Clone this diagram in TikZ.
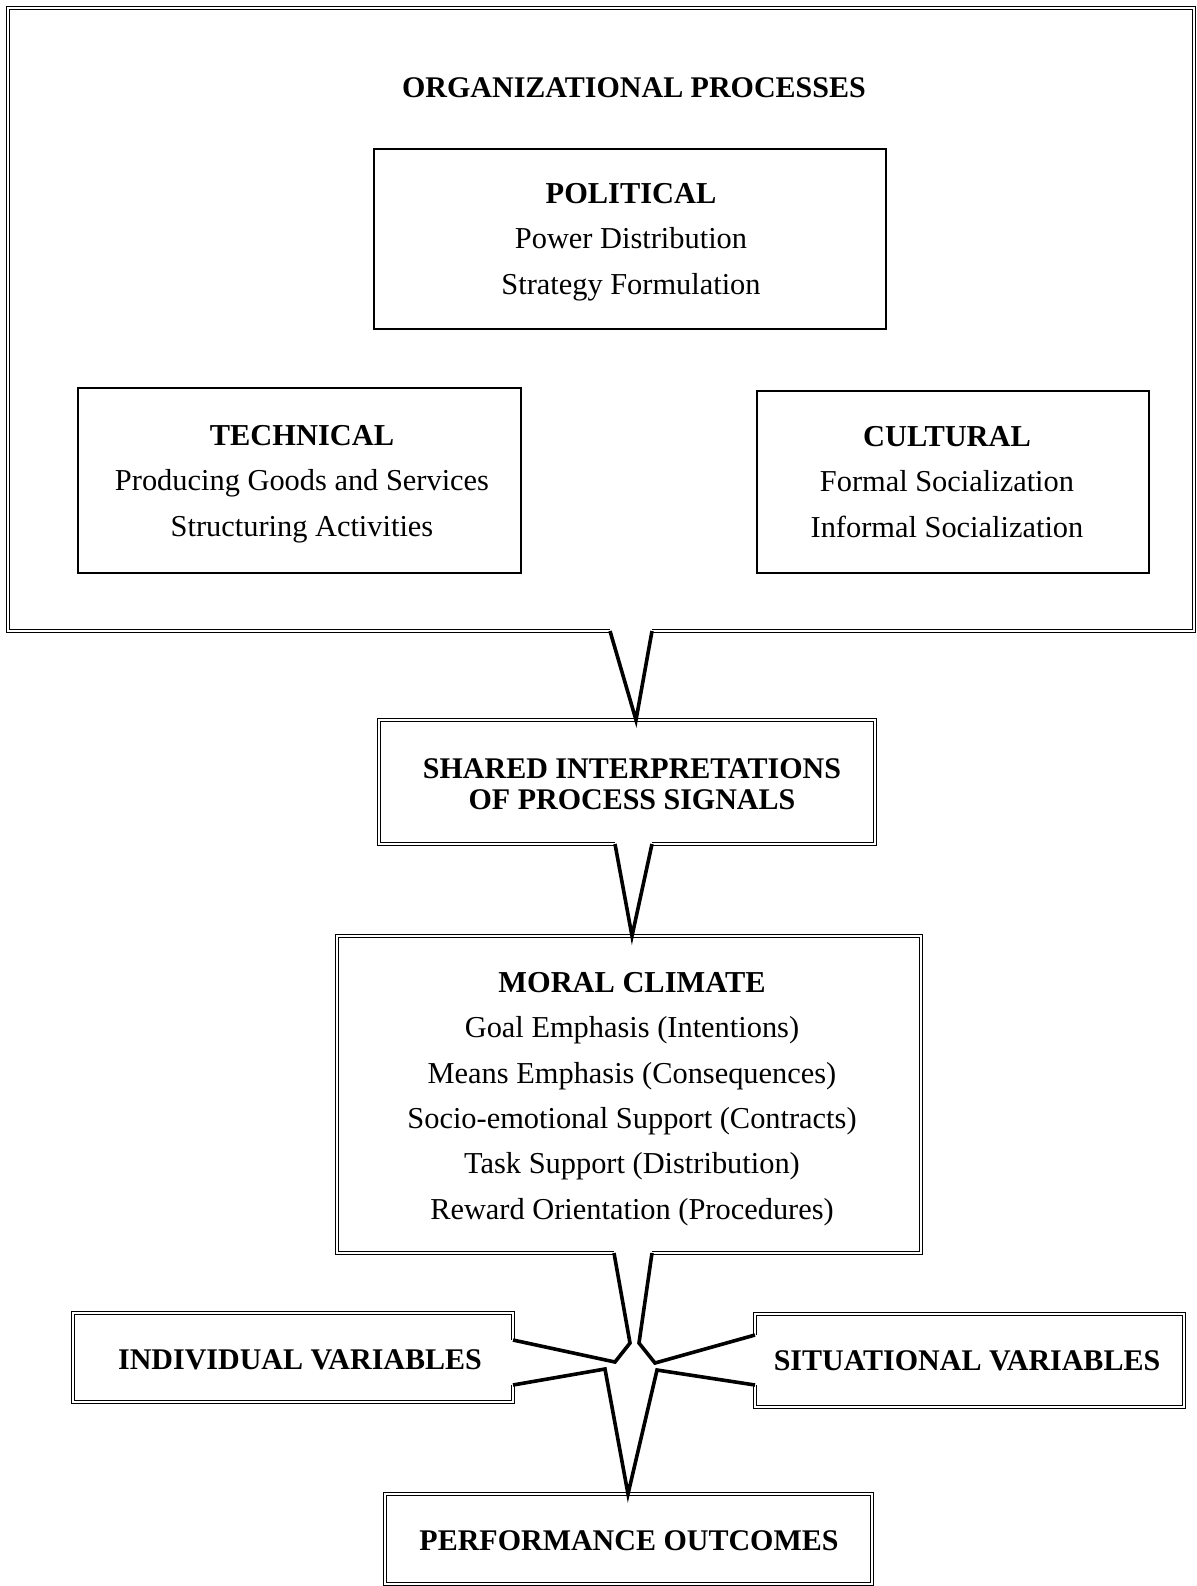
\documentclass[tikz,border=0pt]{standalone}
\usepackage{fontspec}
\setmainfont{Liberation Serif}
\usetikzlibrary{fit}

\tikzset{every picture/.style={line width=0.75pt}}
\tikzset{
  box/.style={inner sep=0pt, outer sep=0pt},
  plainbox/.style={box, draw, line width=1.3pt},
  boxtext/.style={inner sep=0pt, align=center, font=\fontsize{15.2}{22.7}\selectfont},
  frame/.style={draw, line width=0.85pt, double, double distance=0.7pt, line join=miter},
  head/.style={inner sep=0pt, align=center, font=\bfseries\fontsize{15}{15.7}\selectfont},
  funnel/.style={line width=1.8pt, line join=miter},
}

\begin{document}
\begin{tikzpicture}[x=0.5pt,y=0.5pt,yscale=-1,xscale=1]
\useasboundingbox (0,0) rectangle (1197,1586);

% Boxes
\node [box, fit={(8,8) (1194,631)}] (outer) {};
\node [plainbox, fit={(374,149) (886,329)}] (political) {};
\node [plainbox, fit={(78,388) (521,573)}] (technical) {};
\node [plainbox, fit={(757,391) (1149,573)}] (cultural) {};
\node [box, fit={(379,720) (875,844)}] (shared) {};
\node [box, fit={(337,936) (921,1253)}] (moral) {};
\node [box, fit={(73,1313) (513,1402)}] (individual) {};
\node [box, fit={(755,1314) (1184,1407)}] (situational) {};
\node [box, fit={(385,1494) (872,1584)}] (outcomes) {};

% Texts
\node [head] (title) at (634,88) {ORGANIZATIONAL PROCESSES};
\node [boxtext] (politicaltxt) at (631,242) {\textbf{POLITICAL}\\Power Distribution\\Strategy Formulation};
\node [boxtext] (technicaltxt) at (302,484) {\textbf{TECHNICAL}\\Producing Goods and Services\\Structuring Activities};
\node [boxtext] (culturaltxt) at (947,482) {\textbf{CULTURAL}\\Formal Socialization\\Informal Socialization};
\node [head] (sharedtxt) at (632,784) {SHARED INTERPRETATIONS\\OF PROCESS SIGNALS};
\node [boxtext] (moraltxt) at (632,1099) {\textbf{MORAL CLIMATE}\\Goal Emphasis (Intentions)\\Means Emphasis (Consequences)\\Socio-emotional Support (Contracts)\\Task Support (Distribution)\\Reward Orientation (Procedures)};
\node [head] (individualtxt) at (300,1360) {INDIVIDUAL VARIABLES};
\node [head] (situationaltxt) at (967,1361) {SITUATIONAL VARIABLES};
\node [head] (outcomestxt) at (629,1541) {PERFORMANCE OUTCOMES};

% notch ends and tips
\coordinate (o1) at (610,631);
\coordinate (o2) at (652,631);
\coordinate (t1) at (636,720);
\coordinate (s1) at (615,844);
\coordinate (s2) at (652,844);
\coordinate (t2) at (632,936);
\coordinate (m1) at (614,1253);
\coordinate (m2) at (652,1253);
\coordinate (i1) at (513,1340);
\coordinate (i2) at (513,1385);
\coordinate (v1) at (755,1335);
\coordinate (v2) at (755,1385);
\coordinate (t3) at (628,1494);

% frames
\draw [frame] (o1) -- (outer.south west) -- (outer.north west) -- (outer.north east) -- (outer.south east) -- (o2);
\draw [frame] (s1) -- (shared.south west) -- (shared.north west) -- (shared.north east) -- (shared.south east) -- (s2);
\draw [frame] (m1) -- (moral.south west) -- (moral.north west) -- (moral.north east) -- (moral.south east) -- (m2);
\draw [frame] (i1) -- (individual.north east) -- (individual.north west) -- (individual.south west) -- (individual.south east) -- (i2);
\draw [frame] (v1) -- (situational.north west) -- (situational.north east) -- (situational.south east) -- (situational.south west) -- (v2);
\draw [frame] (outcomes.north west) rectangle (outcomes.south east);

% funnels
\draw [funnel] (o1) -- (t1) -- (o2);
\draw [funnel] (s1) -- (t2) -- (s2);
\draw [funnel] (m1) -- (630,1343) -- (615,1362) -- (i1);
\draw [funnel] (i2) -- (605,1369) -- (t3) -- (657,1370) -- (v2);
\draw [funnel] (v1) -- (655,1363) -- (639,1343) -- (m2);

\end{tikzpicture}
\end{document}
